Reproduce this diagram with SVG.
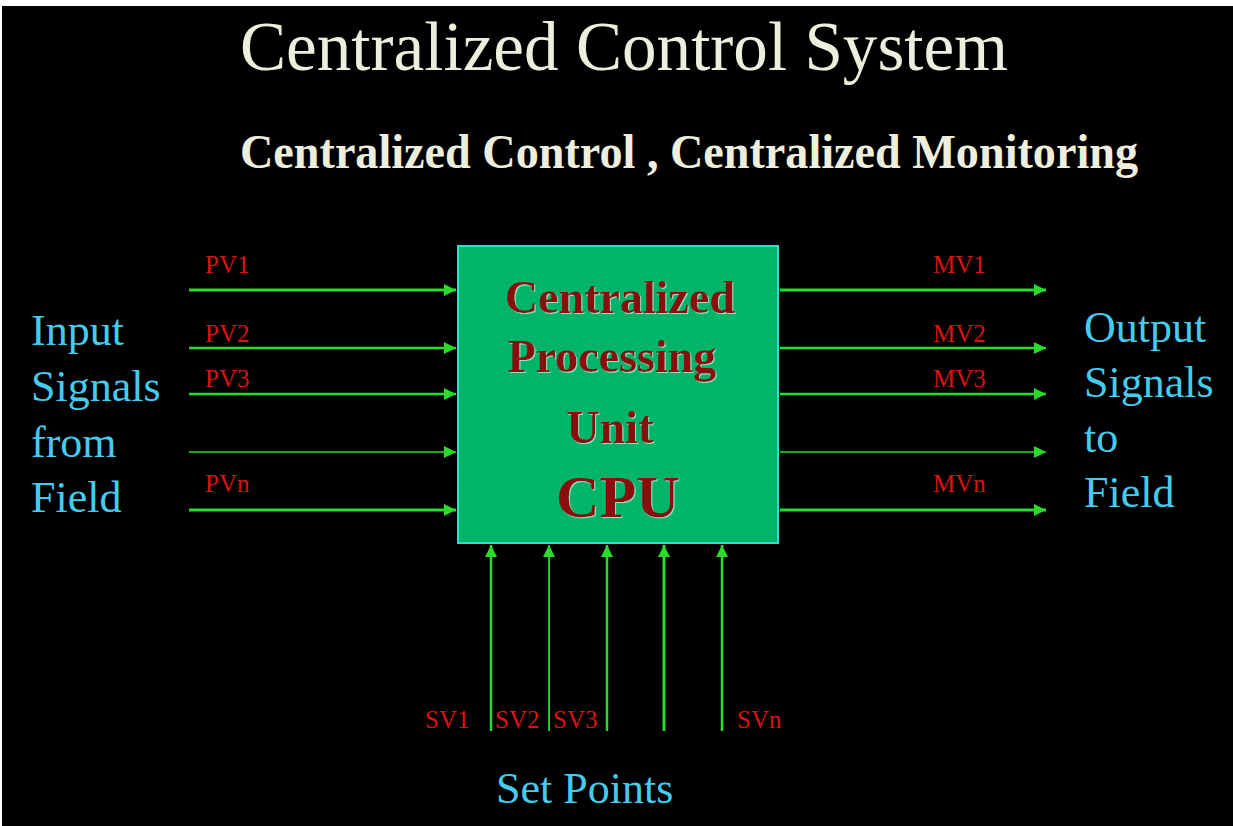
<svg xmlns="http://www.w3.org/2000/svg" width="1233" height="826" viewBox="0 0 1233 826">
<style>
.serif{font-family:"Liberation Serif","Times New Roman",serif}
.title{fill:#EEEEDD;font-size:70px}
.sub{fill:#EEEEDD;font-size:48px;font-weight:bold}
.side{fill:#44CCEE;font-size:44px}
.lbl{fill:#DD1111;font-size:25px}
.cpu{fill:#8B0A0A;font-weight:bold;text-anchor:middle}
.wire{stroke:#2BDB2B;fill:none;marker-end:url(#arr)}
</style>
<defs>
<marker id="arr" viewBox="0 0 12 12" refX="12" refY="6" markerWidth="12" markerHeight="12" markerUnits="userSpaceOnUse" orient="auto">
<path d="M0,0 L12,6 L0,12 z" fill="#2BDB2B"/>
</marker>
<filter id="glow" x="-10%" y="-10%" width="120%" height="120%">
<feDropShadow dx="1" dy="1" stdDeviation="0.6" flood-color="#9FE8C8" flood-opacity="0.9"/>
</filter>
</defs>
<rect x="0" y="0" width="1233" height="826" fill="#FFFFFF"/>
<rect x="2" y="6" width="1231" height="820" fill="#000000"/>
<g id="title">
<text class="serif title" x="240" y="70" textLength="768" lengthAdjust="spacingAndGlyphs">Centralized Control System</text>
<text class="serif sub" x="240" y="168" textLength="898" lengthAdjust="spacingAndGlyphs">Centralized Control , Centralized Monitoring</text>
</g>
<g id="cpu">
<rect x="458" y="246" width="320" height="297" fill="#00B46A" stroke="#33DDCC" stroke-width="2"/>
<g filter="url(#glow)">
<text class="serif cpu" x="620" y="313" font-size="46">Centralized</text>
<text class="serif cpu" x="612" y="372" font-size="46">Processing</text>
<text class="serif cpu" x="610" y="443" font-size="46">Unit</text>
<text class="serif cpu" x="618" y="517" font-size="60">CPU</text>
</g>
</g>
<g id="input-label">
<text class="serif side" x="31" y="345">Input</text>
<text class="serif side" x="31" y="401">Signals</text>
<text class="serif side" x="31" y="457">from</text>
<text class="serif side" x="31" y="512">Field</text>
</g>
<g id="output-label">
<text class="serif side" x="1084" y="342">Output</text>
<text class="serif side" x="1084" y="397">Signals</text>
<text class="serif side" x="1084" y="452">to</text>
<text class="serif side" x="1084" y="507">Field</text>
</g>
<g id="setpoints-label">
<text class="serif side" x="496" y="803">Set Points</text>
</g>
<g id="connectors">
<line class="wire" x1="189" y1="290" x2="456" y2="290" stroke-width="3"/>
<line class="wire" x1="189" y1="348" x2="456" y2="348" stroke-width="2.5"/>
<line class="wire" x1="189" y1="394" x2="456" y2="394" stroke-width="2.5"/>
<line class="wire" x1="189" y1="452" x2="456" y2="452" stroke-width="1.6"/>
<line class="wire" x1="189" y1="510" x2="456" y2="510" stroke-width="3"/>
<line class="wire" x1="780" y1="290" x2="1046" y2="290" stroke-width="3"/>
<line class="wire" x1="780" y1="348" x2="1046" y2="348" stroke-width="2.5"/>
<line class="wire" x1="780" y1="394" x2="1046" y2="394" stroke-width="2.5"/>
<line class="wire" x1="780" y1="452" x2="1046" y2="452" stroke-width="1.6"/>
<line class="wire" x1="780" y1="510" x2="1046" y2="510" stroke-width="3"/>
<line class="wire" x1="491" y1="731" x2="491" y2="545" stroke-width="2.5"/>
<line class="wire" x1="549" y1="731" x2="549" y2="545" stroke-width="1.8"/>
<line class="wire" x1="607" y1="731" x2="607" y2="545" stroke-width="2.5"/>
<line class="wire" x1="664" y1="731" x2="664" y2="545" stroke-width="3"/>
<line class="wire" x1="722" y1="731" x2="722" y2="545" stroke-width="2.5"/>
</g>
<g id="labels">
<text class="serif lbl" x="205" y="273">PV1</text>
<text class="serif lbl" x="205" y="342">PV2</text>
<text class="serif lbl" x="205" y="387">PV3</text>
<text class="serif lbl" x="205" y="492">PVn</text>
<text class="serif lbl" x="933" y="273">MV1</text>
<text class="serif lbl" x="933" y="342">MV2</text>
<text class="serif lbl" x="933" y="387">MV3</text>
<text class="serif lbl" x="933" y="492">MVn</text>
<text class="serif lbl" x="425" y="728">SV1</text>
<text class="serif lbl" x="495" y="728">SV2</text>
<text class="serif lbl" x="553" y="728">SV3</text>
<text class="serif lbl" x="737" y="728">SVn</text>
</g>
</svg>
